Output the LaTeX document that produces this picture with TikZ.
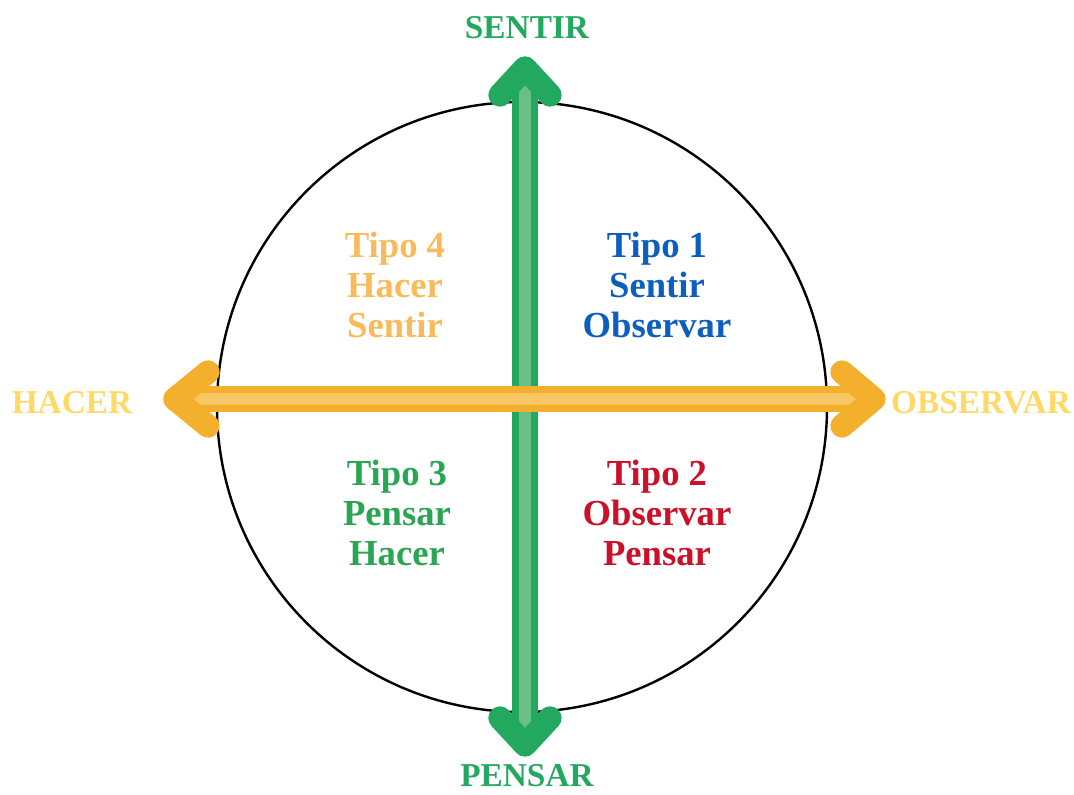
\documentclass[tikz,border=0pt]{standalone}
\usepackage{fontspec}
\setmainfont{Liberation Serif}
\usepackage{tikz}

\definecolor{verde}{HTML}{22A85F}
\definecolor{verdeclaro}{HTML}{6ABF88}
\definecolor{naranja}{HTML}{F4B02C}
\definecolor{naranjaclaro}{HTML}{F9C664}
\definecolor{amarillo}{HTML}{FFD966}
\definecolor{tipouno}{HTML}{0D5FBF}
\definecolor{tipodos}{HTML}{CB1029}
\definecolor{tipotres}{HTML}{2AA553}
\definecolor{tipocuatro}{HTML}{F9BA5C}

\begin{document}
\begin{tikzpicture}[x=0.75pt, y=-0.75pt,
  quadtext/.style = {align=center, font=\bfseries\fontsize{27.5}{30}\selectfont},
  axislabel/.style = {font=\bfseries\fontsize{25}{30}\selectfont},
  shaft/.style = {line width=19.5pt},
  stripe/.style = {line width=9pt, line cap=round},
  chevron/.style = {line width=17.5pt, line cap=round, line join=round}]
  \useasboundingbox (0,0) rectangle (1074,795);
  % circle
  \node[circle, draw, line width=1.8pt, minimum size=457.5pt, inner sep=0pt] (c) at (522,407) {};
  % vertical axis
  \coordinate (top) at (525,68);
  \coordinate (bot) at (525,745);
  \draw[shaft, verde] (top) -- (bot);
  \draw[stripe, verdeclaro] (525,92) -- (525,728);
  \draw[chevron, verde] (500,95) -- (top) -- (550,95);
  \draw[chevron, verde] (500,718) -- (bot) -- (550,718);
  % horizontal axis
  \coordinate (lft) at (175,399);
  \coordinate (rgt) at (874,399);
  \draw[shaft, naranja] (lft) -- (rgt);
  \draw[stripe, naranjaclaro] (198,399) -- (856,399);
  \draw[chevron, naranja] (208,372) -- (lft) -- (208,426);
  \draw[chevron, naranja] (842,372) -- (rgt) -- (842,426);
  % axis labels
  \node[axislabel, text=verde] (sentir) at (527,28) {SENTIR};
  \node[axislabel, text=verde] (pensar) at (527,776) {PENSAR};
  \node[axislabel, text=amarillo] (hacer) at (72,403) {HACER};
  \node[axislabel, text=amarillo] (observar) at (981,403) {OBSERVAR};
  % quadrants
  \node[quadtext, text=tipouno] (t1) at (657,285) {Tipo 1\\Sentir\\Observar};
  \node[quadtext, text=tipodos] (t2) at (657,513) {Tipo 2\\Observar\\Pensar};
  \node[quadtext, text=tipotres] (t3) at (397,513) {Tipo 3\\Pensar\\Hacer};
  \node[quadtext, text=tipocuatro] (t4) at (395,285) {Tipo 4\\Hacer\\Sentir};
\end{tikzpicture}
\end{document}
